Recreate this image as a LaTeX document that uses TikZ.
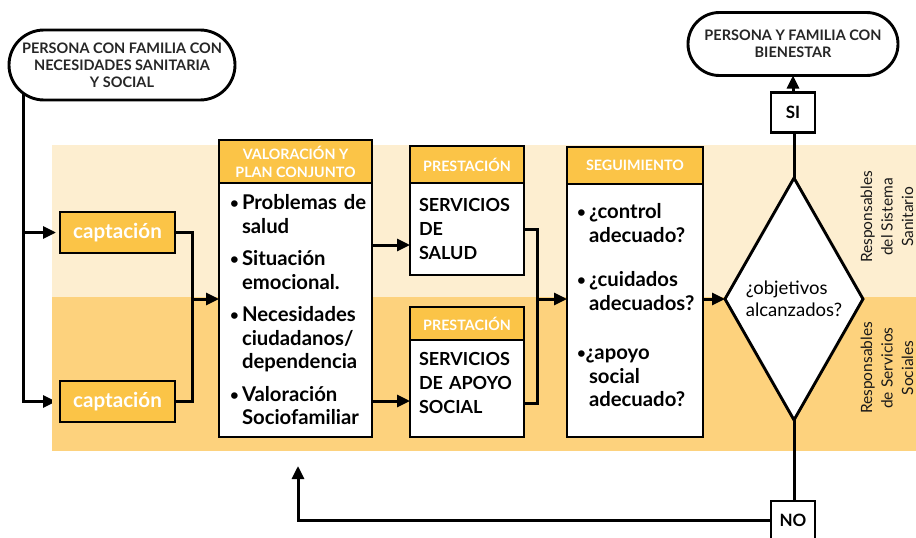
\documentclass[tikz,border=0pt]{standalone}
\usepackage{fontspec}
\setmainfont{Lato}
\usetikzlibrary{positioning, arrows.meta, shapes.geometric, backgrounds}

\definecolor{ocre}{HTML}{FBC447}
\definecolor{bandSan}{HTML}{FDEED0}
\definecolor{bandSoc}{HTML}{FDD27D}

\newcommand{\punto}{\raisebox{1pt}{\fontsize{15}{15}\selectfont\textbullet}}
\newcommand{\bul}{\hspace*{8pt}\makebox[12pt][l]{\punto}}
\newcommand{\sig}{\hspace*{20pt}}
\newcommand{\hueco}[1]{\par\vspace*{#1}\hrule height 0pt\relax}

\begin{document}
\begin{tikzpicture}[x=1pt, y=-1pt, line width=2.9pt, >={Triangle[length=13pt,width=12pt]},
		flow/.style = {line width=3pt},
		term/.style = {draw, fill=white, rounded corners=#1, align=center, inner sep=0pt, outer sep=0pt,
			text=black!85, font=\bfseries\fontsize{14.5}{17}\selectfont},
		head/.style = {draw, fill=ocre, text=white, align=center, inner sep=0pt, outer sep=0pt,
			font=\bfseries\fontsize{14.3}{18}\selectfont},
		body/.style = {draw, fill=white, align=left, inner sep=0pt, outer sep=0pt,
			font=\bfseries\fontsize{20.3}{23.5}\selectfont},
		caps/.style = {font=\bfseries\fontsize{18}{24}\selectfont},
		capt/.style = {draw, fill=ocre, text=white, minimum width=115pt, minimum height=41pt,
			inner sep=0pt, outer sep=0pt, font=\bfseries\fontsize{20.6}{22}\selectfont},
		tag/.style  = {draw, fill=white, minimum width=44pt, minimum height=40pt, inner sep=0pt,
			outer sep=0pt, font=\bfseries\fontsize{17}{20}\selectfont},
		lane/.style = {rotate=90, align=center, text=black!90, font=\fontsize{15.5}{20.5}\selectfont}]

	\useasboundingbox (0,0) rectangle (916,538);

	% franjas
	\fill[bandSan] (52,145) rectangle (916,297);
	\fill[bandSoc] (52,297) rectangle (916,451);

	\node (start) [term=35pt, minimum width=226pt, minimum height=70pt] at (122,65)
		{PERSONA CON FAMILIA CON\\NECESIDADES SANITARIA\\Y SOCIAL};

	\node (capt1) [capt] at (117.5,232.5) {captación};
	\node (capt2) [capt, below = 128pt of capt1] {captación};

	\node (valH) [head, minimum width=153pt, minimum height=43pt] at (295.5,161.5) {VALORACIÓN Y\\PLAN CONJUNTO};
	\node (valB) [body, below = 0pt of valH, minimum width=153pt, minimum height=254pt, text width=147pt]
		{\bul Problemas de\\ \sig salud\\[9pt]
		 \bul Situación\\ \sig emocional.\\[9pt]
		 \bul Necesidades\\ \sig ciudadanos/\\ \sig dependencia\\[9pt]
		 \bul Valoración\\ \sig Sociofamiliar};

	\node (p1H) [head, minimum width=114pt, minimum height=37pt] at (467,164.5) {PRESTACIÓN};
	\node (p1B) [body, caps, below = 0pt of p1H, minimum width=114pt, minimum height=92pt, text width=96pt]
		{SERVICIOS\\DE\\SALUD};
	\node (p2H) [head, minimum width=114pt, minimum height=33pt] at (467,323.5) {PRESTACIÓN};
	\node (p2B) [body, caps, below = 0pt of p2H, minimum width=114pt, minimum height=97pt, text width=96pt]
		{SERVICIOS\\DE APOYO\\SOCIAL\hueco{12pt}};

	\node (segH) [head, minimum width=136pt, minimum height=37pt] at (635,165.5) {SEGUIMIENTO};
	\node (segB) [body, below = 0pt of segH, minimum width=136pt, minimum height=253pt, text width=132pt]
		{\bul ¿control\\ \sig adecuado?\\[21pt]
		 \bul ¿cuidados\\ \sig adecuados?\\[26pt]
		 \hspace*{8pt}\punto¿apoyo\\ \sig social\\ \sig adecuado?\hueco{10pt}};

	\node (dia) [diamond, draw, fill=white, minimum width=138pt, minimum height=242pt, inner sep=0pt,
		outer sep=0pt, align=left, font=\fontsize{18.5}{22}\selectfont] at (794,299) {¿objetivos\\alcanzados?};

	\node (SI)  [tag] at (793,112.5) {SI};
	\node (fin) [term=31.5pt, minimum width=210pt, minimum height=63pt, above = 17pt of SI]
		{PERSONA Y FAMILIA CON\\BIENESTAR};
	\node (NO)  [tag, minimum height=38pt] at (793,520) {NO};

	\node (san) [lane] at (887,217) {Responsables\\del Sistema\\Sanitario};
	\node (soc) [lane] at (887,368) {Responsables\\de Servicios\\Sociales};

	\coordinate (lft)  at (23,232.5);
	\coordinate (jn1)  at (192,299);
	\coordinate (jn2)  at (537,299);
	\coordinate (back) at (298,466);

	\begin{pgfonlayer}{background}
		\draw[flow, ->, shorten >=4pt] (start.center -| lft) |- (capt2);
	\end{pgfonlayer}
	\draw[flow, ->, shorten >=4pt] (lft) -- (capt1);

	\draw[flow] (capt1) -| (jn1);
	\draw[flow] (capt2) -| (jn1);
	\draw[flow, ->] (jn1) -- (jn1 -| valB.west);

	\draw[flow, ->] ([yshift=-16pt]p1B.west -| valB.east) -- ([yshift=-16pt]p1B.west);
	\draw[flow, ->] ([yshift=-12.5pt]p2B.west -| valB.east) -- ([yshift=-12.5pt]p2B.west);

	\draw[flow] (p1B.east) -| (jn2);
	\draw[flow] ([yshift=-14.5pt]p2B.east) -| (jn2);
	\draw[flow, ->] (jn2) -- (jn2 -| segB.west);

	\draw[flow, ->] (segB.east |- dia.west) -- (dia.west);
	\draw[flow] (dia.north) -- (SI.south -| dia.north);
	\draw[flow, ->] (SI.north) -- (fin.south);
	\draw[flow] (dia.south) -- (NO.north -| dia.south);
	\draw[flow, ->] (NO.west) -| (back);

\end{tikzpicture}
\end{document}
